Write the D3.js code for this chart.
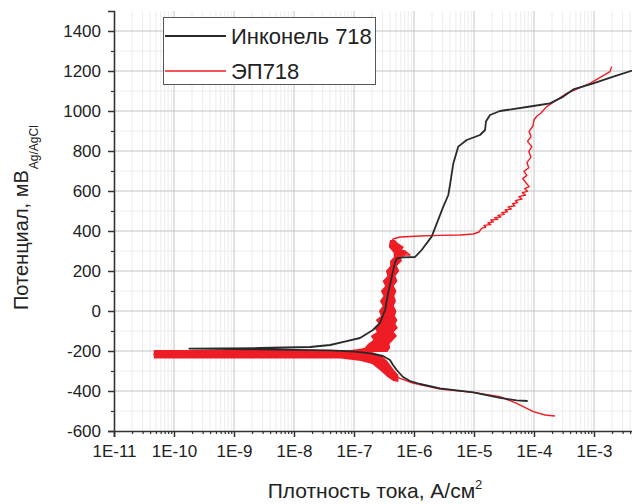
<!DOCTYPE html>
<html>
<head>
<meta charset="utf-8">
<script src="https://d3js.org/d3.v7.min.js"></script>
<style>
  body { margin: 0; background: #fff; font-family: Arial, "Liberation Sans", sans-serif; }
  .grid-major line { stroke: #c4c4c4; stroke-width: 1; }
  .grid-minor line { stroke: #ececec; stroke-width: 1; }
  .axis path, .axis line { stroke: #333; }
  .axis text { font-size: 17px; fill: #222; font-family: Arial, "Liberation Sans", sans-serif; }
</style>
</head>
<body>
<svg id="chart" width="632" height="504"></svg>
<script>
// Инконель 718: [current A/cm2, potential mV], cathodic end -> Ecorr -> anodic end
var inconel = [
  [7.85e-5, -450], [5.15e-5, -447], [2.71e-5, -434], [9.73e-6, -407], [2.71e-6, -387],
  [1.26e-6, -365], [8.58e-7, -350], [6.55e-7, -330], [5.15e-7, -295], [4.47e-7, -270],
  [3.98e-7, -245], [3.04e-7, -225], [1.85e-7, -212], [1.04e-7, -203], [4.0e-8, -197],
  [2.7e-9, -192], [1.8e-10, -188],
  [2.7e-9, -185], [1.85e-8, -180], [4.0e-8, -170], [7.0e-8, -153], [1.26e-7, -135],
  [2.07e-7, -95], [2.7e-7, -60], [3.3e-7, 5], [3.7e-7, 88], [4.25e-7, 172],
  [4.8e-7, 238], [5.15e-7, 263], [6.55e-7, 268], [1.04e-6, 270], [1.34e-6, 305],
  [1.97e-6, 372], [3.08e-6, 522], [3.73e-6, 580], [3.98e-6, 630], [4.52e-6, 738],
  [5.47e-6, 822], [7.55e-6, 855], [1.26e-5, 880], [1.53e-5, 905], [1.58e-5, 947],
  [1.85e-5, 980], [2.71e-5, 1000], [9.73e-5, 1025], [1.85e-4, 1038], [3.08e-4, 1072],
  [4.52e-4, 1108], [9.73e-4, 1138], [2.1e-3, 1172], [5.85e-3, 1215]
];

// ЭП718 main trace
var ep718 = [
  [2.24e-4, -525], [1.53e-4, -520], [9.73e-5, -503], [5.15e-5, -462], [2.71e-5, -428],
  [9.73e-6, -407], [2.71e-6, -390], [9.6e-7, -360], [5.85e-7, -337], [3.98e-7, -310],
  [3.04e-7, -278], [2.07e-7, -245], [1.3e-7, -230], [6.0e-8, -216], [1.0e-8, -216],
  [4.6e-11, -216],
  [1.0e-8, -210], [6.0e-8, -206], [1.85e-7, -185], [2.71e-7, -120], [3.29e-7, -35],
  [3.69e-7, 55], [3.98e-7, 130], [4.3e-7, 205], [5.15e-7, 255], [7.08e-7, 280],
  [8.58e-7, 280], [7.08e-7, 300], [5.0e-7, 310], [4.3e-7, 335], [4.47e-7, 360],
  [5.85e-7, 370], [1.26e-6, 375], [2.71e-6, 378], [5.85e-6, 380], [9.73e-6, 385],
  [1.21e-5, 395], [1.34e-5, 413], [1.58e-5, 420], [1.46e-5, 428], [1.9e-5, 432],
  [1.7e-5, 440], [2.1e-5, 446], [1.9e-5, 455], [2.5e-5, 458], [2.2e-5, 467],
  [2.8e-5, 470], [2.5e-5, 478], [3.2e-5, 483], [2.9e-5, 492], [3.6e-5, 496],
  [3.3e-5, 505], [4.2e-5, 510], [3.7e-5, 520], [4.8e-5, 526], [4.4e-5, 536],
  [5.3e-5, 542], [4.9e-5, 552], [6.3e-5, 560], [5.6e-5, 572], [7.2e-5, 580],
  [6.4e-5, 592], [7.8e-5, 598], [7.0e-5, 612], [8.3e-5, 622], [7.4e-5, 640],
  [6.5e-5, 662], [7.6e-5, 678], [6.8e-5, 698], [8.2e-5, 716], [7.6e-5, 742],
  [8.9e-5, 768], [8.2e-5, 798], [9.2e-5, 822], [7.8e-5, 848], [8.9e-5, 872],
  [8.3e-5, 898], [9.6e-5, 925], [1.0e-4, 955], [1.12e-4, 975], [1.31e-4, 990],
  [1.63e-4, 1022], [2.39e-4, 1055], [3.51e-4, 1088], [8.58e-4, 1138], [1.85e-3, 1197],
  [1.97e-3, 1222]
];

// ЭП718 noise envelope near Ecorr: [current, Emin, Emax]
var ep718NoiseH = [
  [4.6e-11, -237, -195], [1.0e-8, -237, -195], [6.0e-8, -238, -195], [1.3e-7, -250, -198],
  [2.0e-7, -265, -205], [2.8e-7, -300, -220], [3.6e-7, -330, -250], [4.5e-7, -350, -290],
  [5.5e-7, -355, -320]
];

// ЭП718 noise envelope of passive range: [potential, iMin, iMax]
var ep718NoiseV = [
  [-205, 1.0e-7, 3.6e-7], [-185, 1.5e-7, 4.0e-7], [-165, 1.7e-7, 3.9e-7],
  [-145, 2.1e-7, 4.5e-7], [-125, 1.9e-7, 5.2e-7], [-105, 2.4e-7, 4.6e-7],
  [-85, 2.2e-7, 5.4e-7], [-65, 2.6e-7, 4.9e-7], [-45, 2.3e-7, 5.3e-7],
  [-25, 2.8e-7, 4.8e-7], [0, 2.6e-7, 5.1e-7], [25, 3.0e-7, 4.6e-7],
  [50, 2.7e-7, 5.0e-7], [75, 3.1e-7, 4.7e-7], [100, 2.8e-7, 5.1e-7],
  [125, 3.3e-7, 4.6e-7], [150, 3.0e-7, 5.3e-7], [175, 3.6e-7, 4.9e-7],
  [200, 3.4e-7, 5.7e-7], [225, 4.0e-7, 5.2e-7], [250, 4.0e-7, 6.3e-7],
  [270, 4.6e-7, 6.0e-7], [290, 4.6e-7, 8.0e-7], [305, 4.2e-7, 6.2e-7],
  [320, 3.8e-7, 6.8e-7], [340, 3.9e-7, 5.4e-7], [355, 4.0e-7, 4.8e-7]
];

var xDecades = [1e-11, 1e-10, 1e-9, 1e-8, 1e-7, 1e-6, 1e-5, 1e-4, 1e-3];
var xLabels = ["1E-11", "1E-10", "1E-9", "1E-8", "1E-7", "1E-6", "1E-5", "1E-4", "1E-3"];
var yMajor = [-600, -400, -200, 0, 200, 400, 600, 800, 1000, 1200, 1400];
var legendNames = ["Инконель 718", "ЭП718"];
var colors = ["#2a2a2a", "#ee1c24"];

var svg = d3.select("#chart");
var pLeft = 114, pRight = 654, pTop = 11, pBottom = 431;

var x = d3.scaleLog().domain([1e-11, 1e-2]).range([pLeft, pRight]);
var y = d3.scaleLinear().domain([-600, 1500]).range([pBottom, pTop]);

var xMinor = [];
xDecades.forEach(function (d) {
  for (var k = 2; k <= 9; k++) xMinor.push(d * k);
});
var yMinor = d3.range(-500, 1500, 200);

// grid
var gn = svg.append("g").attr("class", "grid-minor");
gn.selectAll("line.v").data(xMinor).enter().append("line").attr("class", "v")
  .attr("x1", x).attr("x2", x).attr("y1", pTop).attr("y2", pBottom);
gn.selectAll("line.h").data(yMinor).enter().append("line").attr("class", "h")
  .attr("x1", pLeft).attr("x2", pRight).attr("y1", y).attr("y2", y);

var gm = svg.append("g").attr("class", "grid-major");
gm.selectAll("line.v").data(xDecades.slice(1).concat([1e-2])).enter().append("line").attr("class", "v")
  .attr("x1", x).attr("x2", x).attr("y1", pTop).attr("y2", pBottom);
gm.selectAll("line.h").data(yMajor.slice(1)).enter().append("line").attr("class", "h")
  .attr("x1", pLeft).attr("x2", pRight).attr("y1", y).attr("y2", y);

// noise bands
svg.append("path").datum(ep718NoiseH)
  .attr("fill", colors[1])
  .attr("d", d3.area()
    .x(function (d) { return x(d[0]); })
    .y0(function (d) { return y(d[1]); })
    .y1(function (d) { return y(d[2]); }));
svg.append("path").datum(ep718NoiseV)
  .attr("fill", colors[1])
  .attr("d", d3.area()
    .y(function (d) { return y(d[0]); })
    .x0(function (d) { return x(d[1]); })
    .x1(function (d) { return x(d[2]); }));

var line = d3.line()
  .x(function (d) { return x(d[0]); })
  .y(function (d) { return y(d[1]); });

svg.append("path").datum(ep718)
  .attr("fill", "none").attr("stroke", colors[1]).attr("stroke-width", 1.4)
  .attr("stroke-linejoin", "round").attr("d", line);
svg.append("path").datum(inconel)
  .attr("fill", "none").attr("stroke", colors[0]).attr("stroke-width", 1.8)
  .attr("stroke-linejoin", "round").attr("d", line);

// axes
var xAxis = svg.append("g").attr("class", "axis")
  .attr("transform", "translate(0," + pBottom + ")")
  .call(d3.axisBottom(x).tickValues(xDecades).tickSize(6)
    .tickFormat(function (d, i) { return xLabels[i]; }));
xAxis.selectAll("text").attr("y", 14);
xAxis.select(".domain").attr("stroke-width", 1.6);
xAxis.selectAll(".tick line").attr("stroke-width", 1.5);
svg.append("g").attr("class", "axis")
  .attr("transform", "translate(0," + pBottom + ")")
  .call(d3.axisBottom(x).tickValues(xMinor).tickSize(3).tickFormat(""))
  .call(function (g) { g.select(".domain").remove(); })
  .selectAll(".tick line").attr("stroke-width", 1.2);

var yAxis = svg.append("g").attr("class", "axis")
  .attr("transform", "translate(" + pLeft + ",0)")
  .call(d3.axisLeft(y).tickValues(yMajor).tickSize(6)
    .tickFormat(function (d) { return String(d); }));
yAxis.select(".domain").attr("stroke-width", 1.6);
yAxis.selectAll(".tick line").attr("stroke-width", 1.5);
yAxis.selectAll("text").attr("x", -13);
svg.append("g").attr("class", "axis")
  .attr("transform", "translate(" + pLeft + ",0)")
  .call(d3.axisLeft(y).tickValues(yMinor).tickSize(3).tickFormat(""))
  .call(function (g) { g.select(".domain").remove(); })
  .selectAll(".tick line").attr("stroke-width", 1.2);

// axis titles
var yt = svg.append("text")
  .attr("transform", "translate(28,310) rotate(-90)")
  .attr("text-anchor", "start")
  .style("font-size", "20px").attr("fill", "#222");
yt.append("tspan").text("Потенциал, мВ");
yt.append("tspan").attr("dy", 10).attr("dx", 1).style("font-size", "12px").text("Ag/AgCl");

var xt = svg.append("text")
  .attr("x", 375).attr("y", 498)
  .attr("text-anchor", "middle")
  .style("font-size", "21px").attr("fill", "#222");
xt.append("tspan").text("Плотность тока, А/см");
xt.append("tspan").attr("dy", -9).style("font-size", "13px").text("2");

// legend
var lg = svg.append("g");
lg.append("rect").attr("x", 163.5).attr("y", 17.5).attr("width", 212).attr("height", 67)
  .attr("fill", "#fff").attr("stroke", "#555").attr("stroke-width", 1);
legendNames.forEach(function (name, i) {
  var ly = 36 + i * 35;
  lg.append("line").attr("x1", 165).attr("x2", 226).attr("y1", ly).attr("y2", ly)
    .attr("stroke", colors[i]).attr("stroke-width", i === 0 ? 1.8 : 1.4);
  lg.append("text").attr("x", 231).attr("y", ly + 8)
    .style("font-size", "22px").attr("fill", "#222").text(name);
});
</script>
</body>
</html>
